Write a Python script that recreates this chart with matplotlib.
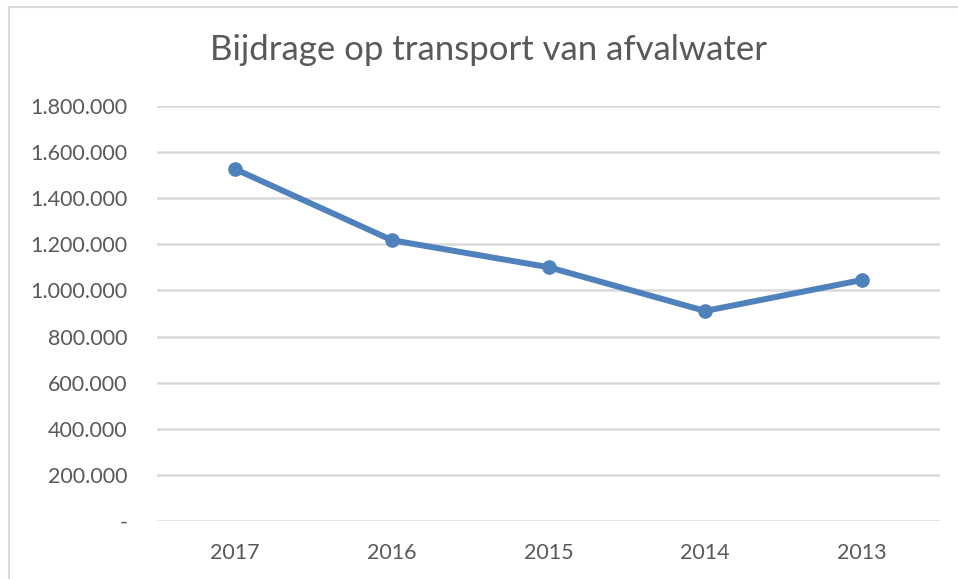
import matplotlib
matplotlib.use("Agg")
import matplotlib.pyplot as plt
from matplotlib.lines import Line2D
from matplotlib.ticker import FuncFormatter

years = ["2017", "2016", "2015", "2014", "2013"]
values = [1526000, 1218000, 1101000, 911000, 1045000]
yticks = [0, 200000, 400000, 600000, 800000, 1000000, 1200000, 1400000, 1600000, 1800000]
title = "Bijdrage op transport van afvalwater"

plt.rcParams['font.family'] = ['Lato', 'DejaVu Sans']
text_color = "#595959"
line_color = "#4F81BD"
grid_color = "#D9D9D9"

fig = plt.figure(figsize=(9.58, 5.79), dpi=100)
ax = fig.add_axes([157/958, 1-521/579, (940-157)/958, (521-106)/579])

x = list(range(len(years)))
ax.plot(x, values, color=line_color, lw=4.3, marker="o", ms=9.5, solid_capstyle="round", zorder=3)

ax.set_xlim(-0.5, len(years)-0.5)
ax.set_ylim(0, 1800000)
ax.set_yticks(yticks)
def fmt(v, pos):
    if v == 0:
        return "-"
    return f"{int(v):,}".replace(",", ".")
ax.yaxis.set_major_formatter(FuncFormatter(fmt))
ax.set_xticks(x)
ax.set_xticklabels(years)
ax.grid(axis="y", color=grid_color, lw=1.8)
ax.set_axisbelow(True)
for s in ax.spines.values():
    s.set_visible(False)
ax.tick_params(length=0, colors=text_color, labelsize=15.5)
ax.tick_params(axis="y", pad=21)
ax.tick_params(axis="x", pad=16)

fig.text(489/958, 1-50/579, title, ha="center", va="center", fontsize=25, color=text_color)

fig.add_artist(Line2D([9/958, 1], [1-7/579, 1-7/579], transform=fig.transFigure, color=grid_color, lw=1.5))
fig.add_artist(Line2D([9/958, 9/958], [0, 1-7/579], transform=fig.transFigure, color=grid_color, lw=1.5))

fig.savefig("out.png", dpi=100)
